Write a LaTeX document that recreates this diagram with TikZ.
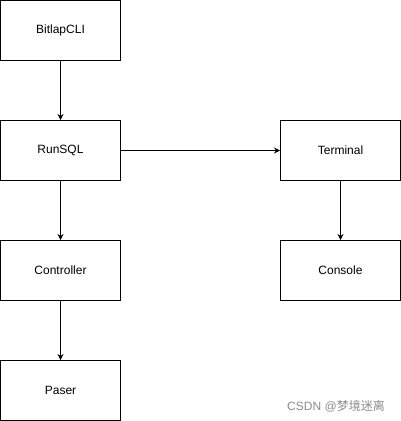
\documentclass[tikz,border=0pt]{standalone}
\usepackage{fontspec}
\setmainfont{Liberation Sans}
\newfontfamily\cjk{Noto Sans CJK SC}
\usetikzlibrary{arrows.meta}
\begin{document}
\begin{tikzpicture}[x=1pt,y=-1pt,
  box/.style={draw=black,line width=1pt,minimum width=120pt,minimum height=60pt,inner sep=0pt,font=\fontsize{12}{14}\selectfont,fill=white},
  conn/.style={draw=black,line width=1pt,-{Stealth[length=6pt,width=6pt]}}]
\useasboundingbox (0,0) rectangle (401,421);
\fill[white] (0,0) rectangle (401,421);
\node[box] (cli) at (60.5,30.5) {BitlapCLI};
\node[box] (run) at (60.5,150.5) {RunSQL};
\node[box] (ctl) at (60.5,270.5) {Controller};
\node[box] (pas) at (60.5,390.5) {Paser};
\node[box] (ter) at (340.5,150.5) {Terminal};
\node[box] (con) at (340.5,270.5) {Console};
\draw[conn] (cli) -- (run);
\draw[conn] (run) -- (ctl);
\draw[conn] (ctl) -- (pas);
\draw[conn] (run) -- (ter);
\draw[conn] (ter) -- (con);
\node[text=black!45,font=\fontsize{12}{14}\selectfont,inner sep=0pt] (wm) at (336,406) {CSDN @{\cjk 梦境迷离}};
\end{tikzpicture}
\end{document}
